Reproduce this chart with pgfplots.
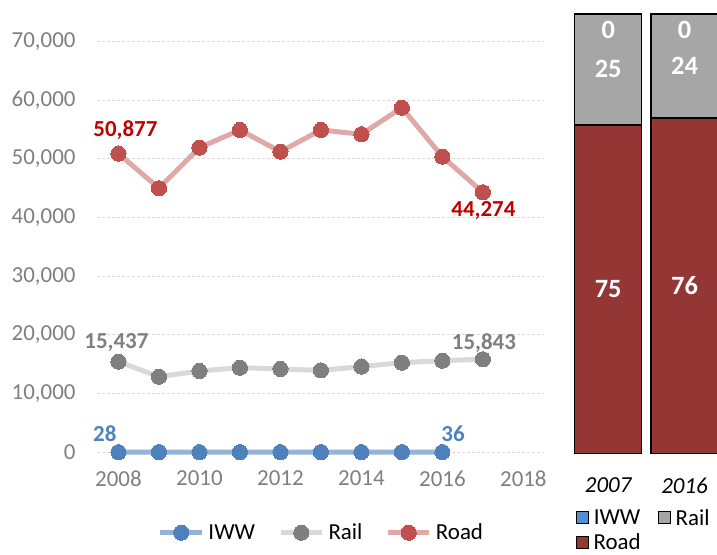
\documentclass[border=0pt]{standalone}
\usepackage{pgfplots}
\pgfplotsset{compat=1.18}
\usepackage{fontspec}
\setmainfont{Carlito}
\definecolor{tickgray}{HTML}{7F7F7F}
\definecolor{gridgray}{HTML}{D9D9D9}
\definecolor{iwwmark}{HTML}{4F81BD}
\definecolor{iwwline}{HTML}{95B3D7}
\definecolor{railmark}{HTML}{7F7F7F}
\definecolor{railline}{HTML}{D9D9D9}
\definecolor{roadmark}{HTML}{C0504D}
\definecolor{roadline}{HTML}{E0A9A8}
\definecolor{roadlab}{HTML}{C00000}
\definecolor{roadbar}{HTML}{943634}
\definecolor{railbar}{HTML}{A6A6A6}
\definecolor{iwwbar}{HTML}{558ED5}

\pgfplotstableread{
year road rail
2008 50877 15437
2009 44967 12877
2010 51882 13850
2011 54897 14410
2012 51201 14190
2013 54897 13950
2014 54165 14600
2015 58695 15260
2016 50349 15600
2017 44274 15843
}\linedata
\pgfplotstableread{
year iww
2008 28
2009 31
2010 33
2011 34
2012 35
2013 34
2014 35
2015 36
2016 36
}\iwwdata
\pgfplotstableread{
x road rail iww
0 74.7 25.26 0.04
1 76.3 23.66 0.04
}\sharedata

\newcommand{\bigfont}{\fontsize{23}{27}\selectfont}
\newcommand{\barfont}{\fontsize{26.5}{30}\selectfont}

\begin{document}
\begin{tikzpicture}[x=1bp,y=1bp]
\useasboundingbox (0,0) rectangle (717,555);
\clip (0,0) rectangle (717,555);
\begin{axis}[
  at={(97bp,102.7bp)}, anchor=south west,
  scale only axis, width=447bp, height=411bp,
  xmin=2007.47, xmax=2018.51, ymin=0, ymax=70000,
  xtick={2008,2010,...,2018}, ytick={0,10000,...,70000},
  axis line style={draw=none}, major tick length=0pt,
  ymajorgrids, major grid style={dash pattern=on 3bp off 2bp, color=gridgray, line width=0.8bp},
  /pgf/number format/assume math mode=true,
  xticklabel style={/pgf/number format/1000 sep={}, yshift=-15bp},
  yticklabel style={/pgf/number format/1000 sep={,}, xshift=-18bp},
  scaled y ticks=false,
  ticklabel style={font=\bigfont, text=tickgray},
  clip=false,
  legend style={at={(0.5000,-0.1956)}, anchor=center, draw=none, fill=none,
    font=\bigfont, legend columns=3, nodes={inner sep=0pt},
    /tikz/every odd column/.append style={column sep=4bp},
    /tikz/every even column/.append style={column sep=23bp}},
  legend image code/.code={\draw[mark repeat=2,mark phase=2,#1] plot coordinates {(0bp,0bp) (20.75bp,0bp) (41.5bp,0bp)};},
  every node/.append style={text depth=0pt},
]
\addplot[color=iwwline, line width=5bp, mark=*, mark size=7.6bp, mark options={draw=iwwmark, fill=iwwmark, line width=0pt}] table[x=year,y=iww] {\iwwdata};
\addlegendentry{IWW}
\addplot[color=railline, line width=5bp, mark=*, mark size=7.6bp, mark options={draw=railmark, fill=railmark, line width=0pt}] table[x=year,y=rail] {\linedata};
\addlegendentry{Rail}
\addplot[color=roadline, line width=5bp, mark=*, mark size=7.6bp, mark options={draw=roadmark, fill=roadmark, line width=0pt}] table[x=year,y=road] {\linedata};
\addlegendentry{Road}
\node[font=\bigfont\bfseries, text=roadlab, xshift=7bp, yshift=23bp] at (axis cs:2008,50877) {50,877};
\node[font=\bigfont\bfseries, text=roadlab, xshift=0.5bp, yshift=-18bp] at (axis cs:2017,44274) {44,274};
\node[font=\bigfont\bfseries, text=railmark, xshift=-2bp, yshift=19bp] at (axis cs:2008,15437) {15,437};
\node[font=\bigfont\bfseries, text=railmark, xshift=1bp, yshift=16bp] at (axis cs:2017,15843) {15,843};
\node[font=\bigfont\bfseries, text=iwwmark, xshift=-13.6bp, yshift=18.6bp] at (axis cs:2008,28) {28};
\node[font=\bigfont\bfseries, text=iwwmark, xshift=10.7bp, yshift=18.6bp] at (axis cs:2016,36) {36};
\end{axis}

\begin{axis}[
  at={(570.05bp,101.7bp)}, anchor=south west,
  scale only axis, width=152.6bp, height=439.6bp,
  xmin=-0.5, xmax=1.5, ymin=0, ymax=100,
  hide axis, clip=false,
  ybar stacked, bar width=67bp,
  every axis plot/.append style={draw=black, line width=1.3bp},
  reverse legend,
  legend style={at={(0.015,-0.122)}, anchor=north west, draw=none, fill=none,
    font=\bigfont, legend columns=2, nodes={inner sep=0pt},
    /tikz/every odd column/.append style={column sep=5bp},
    /tikz/every even column/.append style={column sep=17bp},
    /tikz/row sep=7bp},
  legend image code/.code={\draw[#1, line width=1bp] (0bp,-6bp) rectangle (12bp,6bp);},
]
\addplot[fill=roadbar] table[x=x,y=road] {\sharedata};
\addlegendentry{Road}
\addplot[fill=railbar] table[x=x,y=rail] {\sharedata};
\addlegendentry{Rail}
\addplot[fill=iwwbar] table[x=x,y=iww] {\sharedata};
\addlegendentry{IWW}
\end{axis}

\begin{axis}[
  at={(570.05bp,101.7bp)}, anchor=south west,
  scale only axis, width=152.6bp, height=439.6bp,
  xmin=-0.5, xmax=1.5, ymin=0, ymax=100,
  hide axis, clip=false,
]
\node[font=\barfont\bfseries, text=white] at (axis cs:0,96.3) {0};
\node[font=\barfont\bfseries, text=white] at (axis cs:1,96.3) {0};
\node[font=\barfont\bfseries, text=white] at (axis cs:0,87.35) {25};
\node[font=\barfont\bfseries, text=white] at (axis cs:1,88.15) {24};
\node[font=\barfont\bfseries, text=white] at (axis cs:0,37.35) {75};
\node[font=\barfont\bfseries, text=white] at (axis cs:1,38.15) {76};
\node[font=\bigfont\itshape] at (axis cs:0,-7.3) {2007};
\node[font=\bigfont\itshape] at (axis cs:1,-7.3) {2016};
\end{axis}
\end{tikzpicture}
\end{document}
